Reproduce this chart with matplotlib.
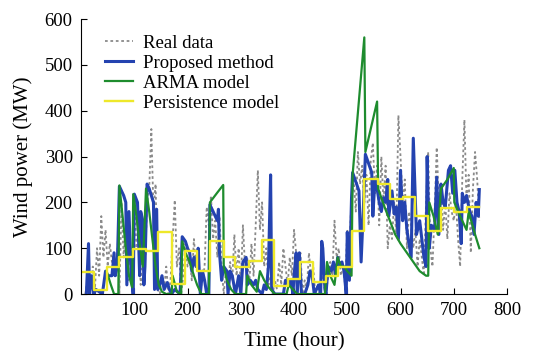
import matplotlib
matplotlib.use("Agg")
import matplotlib.pyplot as plt

plt.rcParams['font.family'] = ['Liberation Serif', 'DejaVu Serif']

# real data (hour, MW)
real_t = [8, 12, 16, 22, 26, 30, 34, 38, 42, 46, 50, 54, 58, 62, 66, 70, 72, 76, 80, 84,
          88, 92, 96, 100, 104, 108, 112, 116, 120, 124, 128, 132, 136, 140, 144, 148, 152, 156, 160, 164,
          168, 172, 176, 180, 184, 188, 192, 196, 200, 204, 208, 212, 216, 220, 224, 228, 232, 236, 240, 244,
          248, 252, 256, 260, 264, 268, 272, 276, 280, 284, 288, 292, 296, 300, 304, 308, 312, 316, 320, 324,
          328, 332, 336, 340, 344, 348, 352, 356, 360, 364, 368, 372, 376, 380, 384, 388, 392, 396, 400, 404,
          408, 412, 416, 420, 424, 428, 432, 436, 440, 444, 448, 452, 456, 460, 464, 468, 472, 476, 480, 484,
          488, 492, 496, 500, 504, 508, 512, 516, 520, 524, 528, 532, 536, 540, 544, 548, 552, 556, 560, 564,
          568, 572, 576, 580, 584, 588, 592, 596, 600, 604, 608, 612, 616, 620, 624, 628, 632, 636, 640, 644,
          648, 652, 656, 660, 664, 668, 672, 676, 680, 684, 688, 692, 696, 700, 704, 708, 712, 716, 720, 724,
          728, 732, 736, 740, 744, 748]
real_v = [0, 30, 0, 60, 10, 100, 40, 170, 80, 140, 60, 110, 70, 90, 40, 130, 0, 200, 80, 150,
          30, 120, 0, 220, 100, 140, 20, 120, 60, 200, 230, 360, 180, 240, 10, 0, 40, 10, 60, 0,
          30, 120, 205, 60, 100, 0, 40, 110, 60, 80, 30, 120, 60, 90, 10, 30, 60, 190, 150, 215,
          120, 160, 80, 170, 60, 0, 50, 20, 70, 30, 130, 40, 100, 20, 150, 60, 80, 20, 110, 40,
          150, 270, 140, 200, 60, 100, 20, 40, 0, 30, 10, 70, 20, 100, 60, 20, 80, 40, 140, 90,
          40, 90, 0, 30, 10, 90, 40, 60, 0, 20, 0, 40, 20, 0, 40, 70, 40, 160, 80, 100,
          40, 60, 20, 140, 100, 210, 250, 180, 310, 240, 280, 200, 260, 150, 290, 330, 220, 280, 150, 300,
          200, 280, 100, 150, 120, 200, 130, 390, 300, 200, 250, 100, 180, 150, 100, 140, 60, 120, 80, 40,
          200, 310, 100, 60, 180, 320, 200, 230, 140, 200, 120, 220, 180, 160, 200, 120, 60, 250, 380, 200,
          260, 90, 230, 310, 250, 160]

# proposed method
prop_t = [10, 14, 16, 20, 24, 28, 40, 46, 50, 58, 62, 64, 68, 72, 80, 84, 86, 90, 94, 98,
          100, 106, 110, 112, 116, 118, 120, 124, 128, 136, 138, 142, 144, 148, 152, 156, 162, 166, 170, 176,
          186, 190, 196, 200, 204, 208, 212, 216, 220, 224, 228, 232, 236, 240, 242, 250, 256, 258, 260, 264,
          268, 274, 276, 280, 284, 290, 296, 300, 304, 310, 312, 318, 324, 328, 332, 340, 344, 348, 352, 356,
          358, 364, 380, 384, 390, 394, 398, 400, 404, 406, 410, 414, 420, 426, 430, 434, 438, 446, 450, 452,
          454, 458, 460, 464, 470, 474, 478, 482, 486, 490, 494, 498, 500, 504, 508, 510, 516, 522, 526, 530,
          534, 540, 546, 548, 552, 556, 560, 564, 568, 572, 576, 578, 584, 588, 592, 596, 600, 604, 608, 612,
          616, 620, 624, 630, 636, 640, 644, 648, 650, 654, 658, 664, 668, 672, 676, 680, 684, 690, 694, 698,
          702, 706, 710, 714, 716, 720, 724, 730, 734, 738, 742, 746, 748]
prop_v = [0, 110, 0, 40, 0, 10, 0, 50, 40, 40, 90, 40, 60, 235, 215, 200, 20, 180, 40, 0,
          218, 200, 40, 180, 160, 20, 60, 240, 230, 200, 10, 185, 10, 20, 40, 10, 25, 10, 0, 10,
          0, 125, 115, 100, 90, 50, 80, 60, 100, 0, 50, 30, 0, 0, 195, 175, 160, 185, 90, 30,
          60, 50, 0, 50, 40, 0, 40, 0, 70, 80, 20, 30, 20, 30, 10, 0, 20, 10, 60, 260,
          10, 0, 0, 30, 20, 30, 0, 40, 90, 0, 90, 0, 0, 20, 50, 40, 0, 20, 0, 115,
          100, 10, 0, 60, 50, 70, 40, 80, 60, 70, 50, 0, 135, 30, 210, 265, 245, 225, 70, 180,
          305, 285, 265, 170, 250, 230, 200, 180, 210, 200, 250, 170, 225, 175, 190, 120, 270, 160, 200, 140,
          110, 80, 340, 130, 160, 120, 80, 60, 300, 100, 150, 140, 255, 130, 240, 200, 190, 270, 280, 220,
          270, 200, 180, 110, 220, 200, 215, 180, 170, 130, 200, 170, 228]

# ARMA model
arma_t = [48, 56, 62, 70, 72, 78, 84, 90, 96, 98, 104, 110, 116, 122, 128, 134, 140, 146, 152, 160,
          170, 172, 180, 188, 190, 196, 204, 212, 218, 226, 240, 242, 255, 267, 268, 274, 282, 290, 310, 312,
          320, 330, 336, 344, 352, 364, 386, 390, 398, 406, 458, 462, 468, 476, 482, 488, 494, 500, 508, 510,
          532, 534, 556, 558, 570, 580, 590, 600, 612, 624, 636, 648, 652, 654, 662, 670, 676, 688, 700, 701,
          712, 720, 724, 728, 740, 748]
arma_v = [50, 20, 0, 0, 237, 170, 100, 40, 15, 218, 170, 110, 60, 230, 180, 120, 60, 20, 5, 0,
          0, 40, 5, 0, 115, 90, 70, 40, 20, 0, 0, 200, 220, 238, 60, 30, 10, 0, 0, 40,
          20, 5, 50, 30, 15, 0, 0, 20, 10, 0, 0, 70, 40, 20, 80, 60, 60, 50, 40, 260,
          560, 310, 420, 230, 190, 160, 130, 110, 90, 70, 50, 40, 40, 200, 170, 130, 230, 250, 275, 200,
          170, 150, 140, 180, 130, 100]

# persistence model (step starts and levels)
pers_t = [0, 25, 48, 72, 98, 122, 145, 170, 195, 218, 242, 268, 290, 315, 340, 363, 388, 412, 436, 460,
          482, 508, 532, 557, 580, 604, 628, 652, 676, 700, 724, 748]
pers_v = [48, 8, 58, 80, 98, 93, 136, 22, 93, 50, 115, 80, 60, 73, 117, 17, 32, 70, 27, 40,
          60, 137, 250, 240, 207, 212, 170, 137, 187, 180, 190, 190]

fig = plt.figure(figsize=(5.44, 3.53), dpi=100)
ax = fig.add_axes([0.149, 0.167, 0.783, 0.779])

ax.plot(real_t, real_v, color='#8a8a8a', linestyle=(0, (1.5, 1.5)), linewidth=1.3, label='Real data')
ax.plot(prop_t, prop_v, color='#2443b0', linewidth=2.2, label='Proposed method')
ax.plot(arma_t, arma_v, color='#1e8c2e', linewidth=1.6, label='ARMA model')
ax.step(pers_t, pers_v, where='post', color='#eee82a', linewidth=1.7, label='Persistence model')

ax.set_xlim(0, 800)
ax.set_ylim(0, 600)
ax.set_xticks([100, 200, 300, 400, 500, 600, 700, 800])
ax.set_yticks([0, 100, 200, 300, 400, 500, 600])
ax.tick_params(direction='in', labelsize=13.5, length=4, pad=6)
for s in ['top', 'right']:
    ax.spines[s].set_visible(False)
ax.set_xlabel('Time (hour)', fontsize=15, labelpad=9)
ax.set_ylabel('Wind power (MW)', fontsize=15, labelpad=8)
ax.legend(loc='upper left', frameon=False, fontsize=13.5, bbox_to_anchor=(0.03, 0.985),
          handlelength=1.5, handletextpad=0.5, labelspacing=0.16, borderaxespad=0.2)

fig.savefig('out.png', dpi=100)
